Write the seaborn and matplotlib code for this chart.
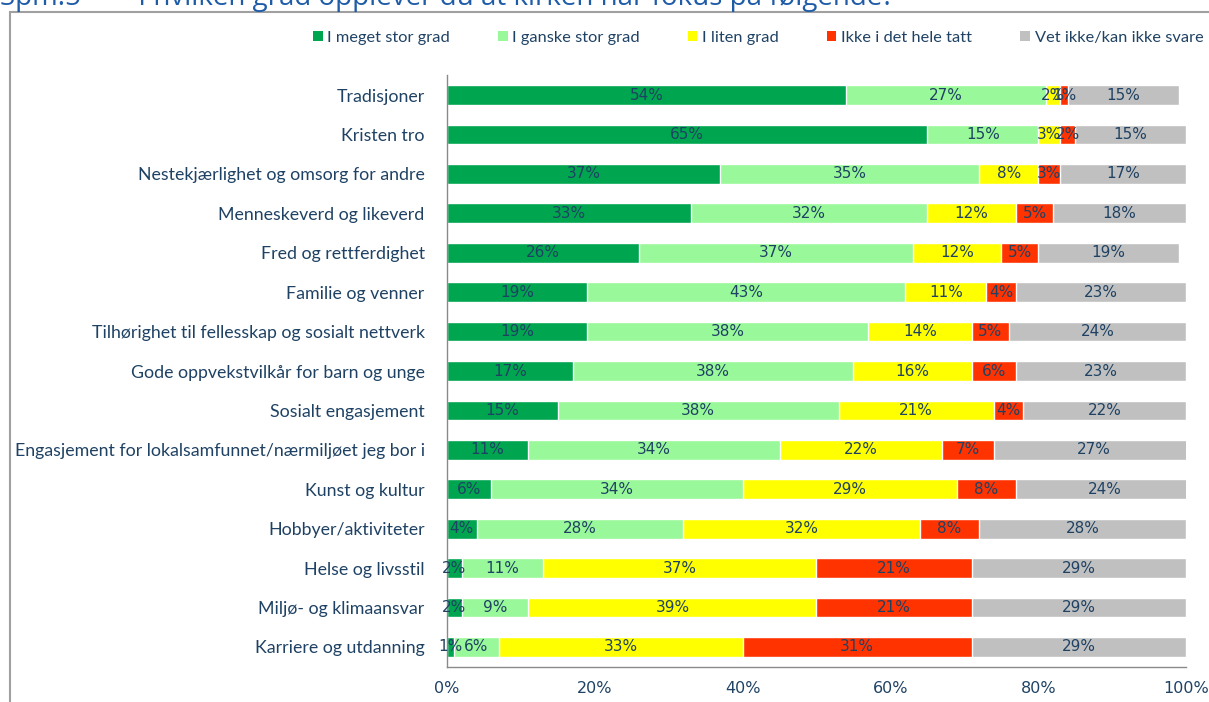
import matplotlib
matplotlib.use("Agg")
import matplotlib.pyplot as plt
from matplotlib.patches import Rectangle, Patch
import numpy as np
import seaborn as sns

categories = [
    "Tradisjoner",
    "Kristen tro",
    "Nestekjærlighet og omsorg for andre",
    "Menneskeverd og likeverd",
    "Fred og rettferdighet",
    "Familie og venner",
    "Tilhørighet til fellesskap og sosialt nettverk",
    "Gode oppvekstvilkår for barn og unge",
    "Sosialt engasjement",
    "Engasjement for lokalsamfunnet/nærmiljøet jeg bor i",
    "Kunst og kultur",
    "Hobbyer/aktiviteter",
    "Helse og livsstil",
    "Miljø- og klimaansvar",
    "Karriere og utdanning",
]

meget_stor = [54, 65, 37, 33, 26, 19, 19, 17, 15, 11, 6, 4, 2, 2, 1]
ganske_stor = [27, 15, 35, 32, 37, 43, 38, 38, 38, 34, 34, 28, 11, 9, 6]
liten = [2, 3, 8, 12, 12, 11, 14, 16, 21, 22, 29, 32, 37, 39, 33]
ikke = [1, 2, 3, 5, 5, 4, 5, 6, 4, 7, 8, 8, 21, 21, 31]
vet_ikke = [15, 15, 17, 18, 19, 23, 24, 23, 22, 27, 24, 28, 29, 29, 29]

series_names = ["I meget stor grad", "I ganske stor grad", "I liten grad",
                "Ikke i det hele tatt", "Vet ikke/kan ikke svare"]
series = [meget_stor, ganske_stor, liten, ikke, vet_ikke]
colors = ["#00A54F", "#99F899", "#FFFF00", "#FF3300", "#C0C0C0"]

title = "Spm.5     – I hvilken grad opplever du at kirken har fokus på følgende?"

text_col = "#1F4264"

sns.set_style("white")
plt.rcParams["font.family"] = ["Lato", "DejaVu Sans"]

fig = plt.figure(figsize=(12.09, 7.02), dpi=100)
ax = fig.add_axes([0.3697, 0.0503, 0.6113, 0.8424])

vals = np.array(series, dtype=float)
cum = np.cumsum(vals, axis=0)

# stacked bars: draw cumulative totals from the back to the front
for i in range(len(series) - 1, -1, -1):
    sns.barplot(x=cum[i], y=categories, orient="h", color=colors[i],
                saturation=1, width=0.5, ax=ax)

for i, s in enumerate(series):
    for j, v in enumerate(s):
        ax.text(cum[i][j] - v / 2, j, f"{v}%", ha="center", va="center",
                fontsize=11, color=text_col, family="Liberation Sans Narrow")

ax.set_xlim(0, 100)
ax.set_ylim(len(categories) - 0.5, -0.5)
ax.set_xticks([0, 20, 40, 60, 80, 100])
ax.set_xticklabels(["0%", "20%", "40%", "60%", "80%", "100%"])
ax.set_xlabel("")
ax.set_ylabel("")

# category ticks sit between the bars
ax.set_yticks(np.arange(len(categories)))
ax.set_yticklabels(categories)
ax.set_yticks(np.arange(len(categories) + 1) - 0.5, minor=True)
ax.tick_params(axis="y", which="major", length=0, pad=16, labelsize=12.8, labelcolor=text_col)
ax.tick_params(axis="y", which="minor", length=5, color="#8a8a8a", direction="out")
ax.tick_params(axis="x", length=5, color="#8a8a8a", direction="out", labelsize=11.5,
               labelcolor=text_col, pad=5)
for lab in ax.get_xticklabels():
    lab.set_family("Liberation Sans Narrow")

for side in ["top", "right"]:
    ax.spines[side].set_visible(False)
for side in ["left", "bottom"]:
    ax.spines[side].set_color("#8a8a8a")
    ax.spines[side].set_linewidth(1)

handles = [Patch(facecolor=c, edgecolor="none") for c in colors]
fig.legend(handles, series_names, loc="center", bbox_to_anchor=(0.627, 0.946),
           ncol=5, frameon=False, fontsize=11.8, handlelength=0.6, handleheight=0.6,
           handletextpad=0.3, columnspacing=2.9, labelcolor=text_col)

# outer frame of the chart area
fig.patches.append(Rectangle((10 / 1209, -0.05), 1.2, 1 - 12 / 702 + 0.05,
                             transform=fig.transFigure, fill=False,
                             edgecolor="#a0a0a0", linewidth=1.5))

fig.text(0.0, 1 - 5 / 702, title, ha="left", va="baseline", fontsize=20,
         color="#1F5CA8", family=["Open Sans", "DejaVu Sans"])

fig.savefig("out.png", dpi=100)
